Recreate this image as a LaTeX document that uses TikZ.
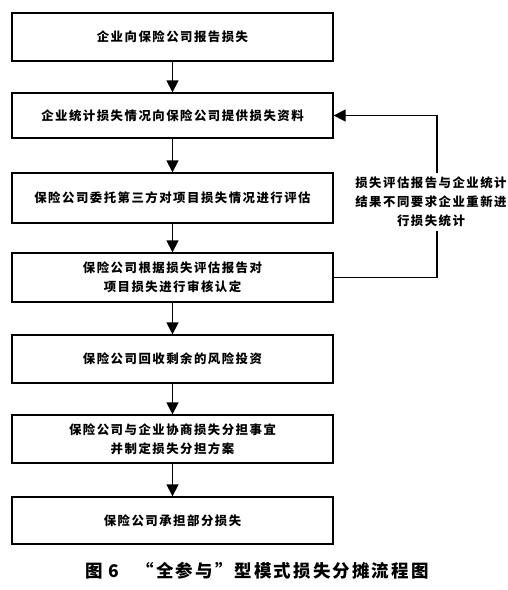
\documentclass[tikz,border=0pt]{standalone}
\usepackage{fontspec}
\newfontfamily\cjk{Noto Sans CJK SC}[LetterSpace=12]
\usepackage{tikz}
\usetikzlibrary{arrows.meta, positioning, calc}

\begin{document}
\begin{tikzpicture}[x=1pt, y=-1pt, font=\cjk\bfseries\fontsize{12.4}{19}\selectfont,
		stepbox/.style={draw, line width=1.3pt, minimum width=321pt, minimum height=48pt, align=center, inner sep=2pt},
		arr/.style={line width=1.3pt, -{Triangle[width=12pt, length=12pt]}},
		fbline/.style={line width=1.3pt}]
	\useasboundingbox (0,0) rectangle (508,590);
	\node[stepbox] (report) at (172.5,37) {企业向保险公司报告损失};
	\node[stepbox, minimum height=45pt] (data) at (172.5,115.5) {企业统计损失情况向保险公司提供损失资料};
	\node[stepbox, minimum height=50pt] (assess) at (172.5,198) {保险公司委托第三方对项目损失情况进行评估};
	\node[stepbox, minimum height=49pt] (audit) at (172.5,277.5) {保险公司根据损失评估报告对\\项目损失进行审核认定};
	\node[stepbox] (recover) at (172.5,359) {保险公司回收剩余的风险投资};
	\node[stepbox] (share) at (172.5,439) {保险公司与企业协商损失分担事宜\\并制定损失分担方案};
	\node[stepbox, minimum height=47pt] (bear) at (172.5,520.5) {保险公司承担部分损失};
	% feedback label
	\node[align=center, inner sep=4pt] (fb) at (431,202) {损失评估报告与企业统计\\结果不同要求企业重新进\\行损失统计};
	\node (cap) at (257,571) {\fontsize{17.5}{20}\selectfont 图\,\,6\quad“全参与”型模式损失分摊流程图};
	% main flow
	\draw[arr] (report) -- (data);
	\draw[arr] (data) -- (assess);
	\draw[arr] (assess) -- (audit);
	\draw[arr] (audit) -- (recover);
	\draw[arr] (recover) -- (share);
	\draw[arr] (share) -- (bear);
	% loop back
	\draw[fbline] (audit.east) -| ([xshift=6pt]fb.south);
	\draw[arr] ([xshift=6pt]fb.north) |- (data.east);
\end{tikzpicture}
\end{document}
